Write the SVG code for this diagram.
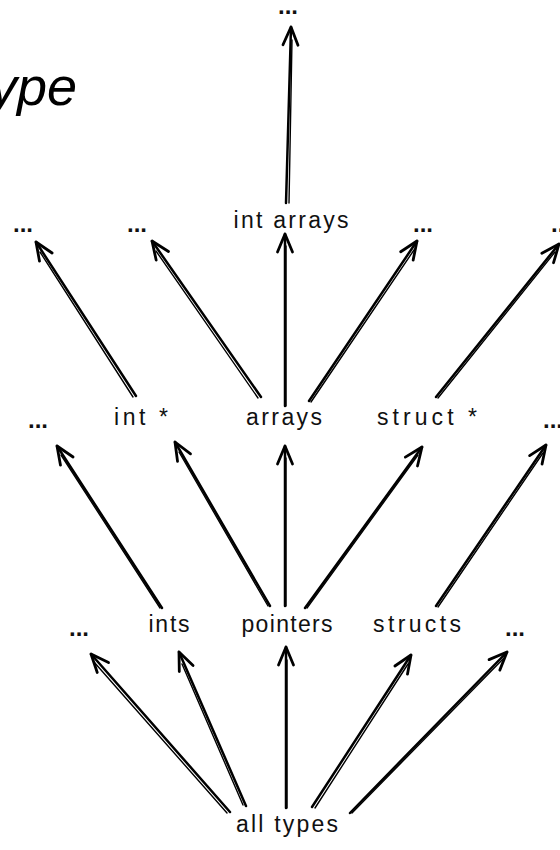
<svg xmlns="http://www.w3.org/2000/svg" width="560" height="850" viewBox="0 0 560 850">
  <style>
    .lbl { font-family: "Liberation Sans", Arial, sans-serif; font-size: 23px; fill: #111; text-anchor: middle; }
    .dots { font-family: "Liberation Sans", Arial, sans-serif; font-size: 24px; font-weight: bold; fill: #111; text-anchor: middle; }
    .title { font-family: "Liberation Sans", Arial, sans-serif; font-size: 54px; font-style: italic; fill: #000; text-anchor: end; }
    .edge { fill: none; stroke: #000; stroke-width: 2.5; stroke-linecap: round; }
    .edge2 { fill: none; stroke: #000; stroke-width: 1.4; stroke-linecap: round; }
  </style>
  <defs>
    <marker id="head" markerUnits="userSpaceOnUse" markerWidth="26" markerHeight="22" viewBox="-21 -11 26 22" refX="0" refY="0" orient="auto">
      <path d="M -18 -7.5 L 0 0 L -18 7.5" fill="none" stroke="#000" stroke-width="2.8" stroke-linecap="round" stroke-linejoin="round"/>
    </marker>
  </defs>

  <rect width="560" height="850" fill="#fff"/>

  <text class="title" x="77" y="105">ype</text>

  <!-- connectors: each drawn as a main stroke plus a lighter companion stroke -->
  <g id="connectors">
    <!-- int arrays -> ... (top) -->
    <path class="edge" d="M 286 203 L 291 27" marker-end="url(#head)"/>
    <path class="edge2" d="M 289 203 L 292 40"/>

    <!-- second row -> third row -->
    <path class="edge" d="M 136 396 L 36 242" marker-end="url(#head)"/>
    <path class="edge2" d="M 133 397 L 40 252"/>
    <path class="edge" d="M 261 397 L 152 241" marker-end="url(#head)"/>
    <path class="edge2" d="M 258 398 L 156 251"/>
    <path class="edge" d="M 285 406 L 285 234" marker-end="url(#head)"/>
    <path class="edge2" d="M 286 406 L 286 246"/>
    <path class="edge" d="M 309 401 L 417 241" marker-end="url(#head)"/>
    <path class="edge2" d="M 311 402 L 414 250"/>
    <path class="edge" d="M 436 397 L 559 244" marker-end="url(#head)"/>
    <path class="edge2" d="M 438 398 L 555 252"/>

    <!-- first row -> second row -->
    <path class="edge" d="M 162 608 L 57 446" marker-end="url(#head)"/>
    <path class="edge2" d="M 160 608 L 61 455"/>
    <path class="edge" d="M 270 606 L 175 442" marker-end="url(#head)"/>
    <path class="edge2" d="M 268 606 L 179 452"/>
    <path class="edge" d="M 285 606 L 285 446" marker-end="url(#head)"/>
    <path class="edge2" d="M 286 606 L 286 458"/>
    <path class="edge" d="M 305 608 L 422 447" marker-end="url(#head)"/>
    <path class="edge2" d="M 307 608 L 418 455"/>
    <path class="edge" d="M 436 606 L 546 445" marker-end="url(#head)"/>
    <path class="edge2" d="M 438 607 L 543 453"/>

    <!-- all types -> first row -->
    <path class="edge" d="M 230 812 L 91 654" marker-end="url(#head)"/>
    <path class="edge2" d="M 227 813 L 94 662"/>
    <path class="edge" d="M 246 806 L 179 652" marker-end="url(#head)"/>
    <path class="edge2" d="M 243 805 L 182 664"/>
    <path class="edge" d="M 286 808 L 286 647" marker-end="url(#head)"/>
    <path class="edge2" d="M 287 808 L 287 660"/>
    <path class="edge" d="M 312 807 L 411 655" marker-end="url(#head)"/>
    <path class="edge2" d="M 315 808 L 408 664"/>
    <path class="edge" d="M 350 813 L 507 652" marker-end="url(#head)"/>
    <path class="edge2" d="M 352 813 L 503 659"/>
  </g>

  <!-- nodes -->
  <g id="top-more"><text class="dots" x="288" y="14">...</text></g>

  <g id="more-1"><text class="dots" x="23" y="232">...</text></g>
  <g id="more-2"><text class="dots" x="137" y="232">...</text></g>
  <g id="int-arrays"><text class="lbl" x="291" y="228" textLength="115" lengthAdjust="spacing">int arrays</text></g>
  <g id="more-3"><text class="dots" x="423" y="232">...</text></g>
  <g id="more-4"><text class="dots" x="561" y="232">...</text></g>

  <g id="more-5"><text class="dots" x="38" y="428">...</text></g>
  <g id="int-ptr"><text class="lbl" x="141" y="425" textLength="54" lengthAdjust="spacing">int *</text></g>
  <g id="arrays"><text class="lbl" x="284" y="425" textLength="76" lengthAdjust="spacing">arrays</text></g>
  <g id="struct-ptr"><text class="lbl" x="427" y="425" textLength="100" lengthAdjust="spacing">struct *</text></g>
  <g id="more-6"><text class="dots" x="553" y="428">...</text></g>

  <g id="more-7"><text class="dots" x="79" y="636">...</text></g>
  <g id="ints"><text class="lbl" x="169" y="632" textLength="41" lengthAdjust="spacing">ints</text></g>
  <g id="pointers"><text class="lbl" x="287" y="632" textLength="91" lengthAdjust="spacing">pointers</text></g>
  <g id="structs"><text class="lbl" x="417" y="632" textLength="88" lengthAdjust="spacing">structs</text></g>
  <g id="more-8"><text class="dots" x="515" y="636">...</text></g>

  <g id="all-types"><text class="lbl" x="287" y="832" textLength="102" lengthAdjust="spacing">all types</text></g>
</svg>
